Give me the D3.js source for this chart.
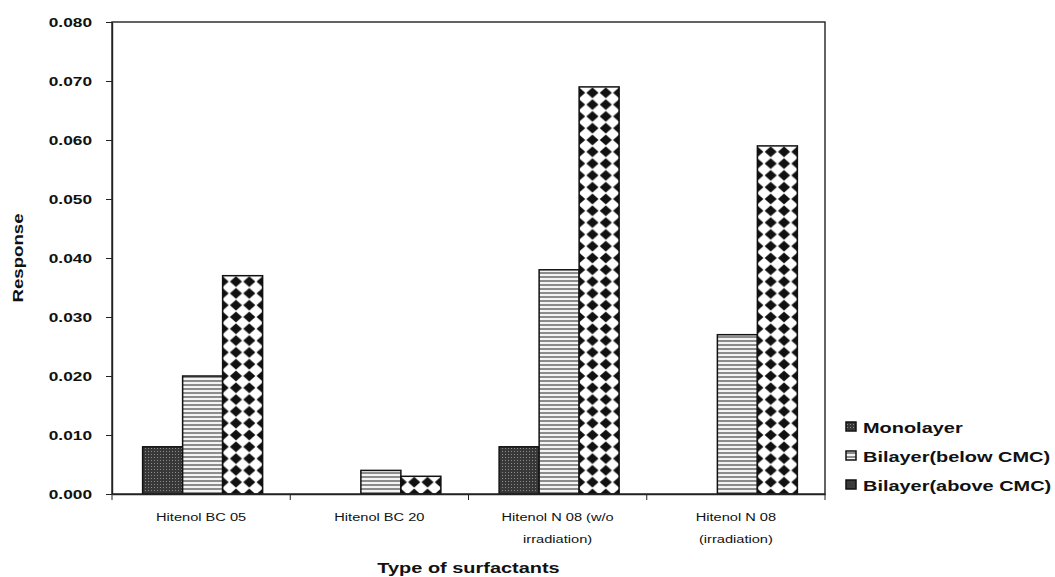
<!DOCTYPE html>
<html><head><meta charset="utf-8">
<script src="https://cdn.jsdelivr.net/npm/d3@7"></script>
<style>body{margin:0;background:#fff}svg{display:block}text{font-family:"Liberation Sans",Arial,sans-serif}</style>
</head><body><svg id="c" width="1055" height="577"></svg>
<script>
const categories = [["Hitenol BC 05"],["Hitenol BC 20"],["Hitenol N 08 (w/o","irradiation)"],["Hitenol N 08","(irradiation)"]];
const seriesNames = ["Monolayer","Bilayer(below CMC)","Bilayer(above CMC)"];
const monolayer = [0.008, 0, 0.008, 0];
const bilayerBelow = [0.020, 0.004, 0.038, 0.027];
const bilayerAbove = [0.037, 0.003, 0.069, 0.059];
const yTicks = [0,0.01,0.02,0.03,0.04,0.05,0.06,0.07,0.08];
const series = [monolayer, bilayerBelow, bilayerAbove];

const svg = d3.select("#c");
const m = {l:112, r:825, t:22, b:494};
const SX = 1.33; // horizontal stretch of text, as in the reference
const defs = svg.append("defs");
const p1 = defs.append("pattern").attr("id","pMono").attr("patternUnits","userSpaceOnUse").attr("width",3).attr("height",3);
p1.append("rect").attr("width",3).attr("height",3).attr("fill","#383838");
p1.append("rect").attr("x",1).attr("y",1).attr("width",1).attr("height",1).attr("fill","#8a8a8a");
const p2 = defs.append("pattern").attr("id","pBelow").attr("patternUnits","userSpaceOnUse").attr("width",4).attr("height",4);
p2.append("rect").attr("width",4).attr("height",4).attr("fill","#f4f4f4");
p2.append("rect").attr("width",4).attr("height",2).attr("fill","#8c8c8c");

const x = d3.scaleBand().domain(d3.range(categories.length)).range([m.l,m.r]);
const y = d3.scaleLinear().domain([0,0.08]).range([m.b,m.t]);
const bw = 40;
const xs = d3.scaleBand().domain(d3.range(3)).range([0,bw*3]);
const barX = (i,si)=>x(i)+x.bandwidth()/2-bw*1.5+xs(si)+1.5;

// diamond pattern, one per category so it aligns with each bar's left edge
const w=bw/3,h=11.8;
categories.forEach((c,i)=>{
  const p3 = defs.append("pattern").attr("id","pAbove"+i).attr("patternUnits","userSpaceOnUse")
    .attr("width",w).attr("height",h).attr("x",barX(i,2)).attr("y",m.b);
  p3.append("rect").attr("width",w).attr("height",h).attr("fill","#ffffff");
  [[0,0],[w,0],[0,h],[w,h]].forEach(([cx,cy])=>{
    p3.append("path").attr("d",`M${cx-w/2+0.6},${cy} L${cx},${cy-h/2+0.6} L${cx+w/2-0.6},${cy} L${cx},${cy+h/2-0.6}Z`).attr("fill","#111");
  });
});
const fills=[()=>"url(#pMono)",()=>"url(#pBelow)",i=>"url(#pAbove"+i+")"];

series.forEach((s,si)=>{
  const data = s.map((v,i)=>({v,i})).filter(d=>d.v>0);
  svg.append("g").selectAll("rect").data(data).join("rect")
    .attr("x",d=>barX(d.i,si))
    .attr("y",d=>y(d.v)).attr("width",bw).attr("height",d=>y(0)-y(d.v))
    .attr("fill",d=>fills[si](d.i)).attr("stroke","#111").attr("stroke-width",1.5);
});

svg.append("rect").attr("x",m.l).attr("y",m.t).attr("width",m.r-m.l).attr("height",m.b-m.t).attr("fill","none").attr("stroke","#222").attr("stroke-width",1.4);

function stext(g,xx,yy,str,opts){
  return g.append("text").attr("transform",`translate(${xx},${yy}) scale(${SX},1)`)
    .attr("font-size",opts.size).attr("font-weight",opts.weight||"normal")
    .attr("text-anchor",opts.anchor||"start").attr("fill","#111").text(str);
}

// y axis
const ya = svg.append("g").attr("transform",`translate(${m.l},0)`)
  .call(d3.axisLeft(y).tickValues(yTicks).tickFormat("").tickSize(6).tickSizeOuter(0));
ya.select(".domain").attr("stroke","#222").attr("stroke-width",1.4);
ya.selectAll("line").attr("stroke","#222");
const fmt = d3.format(".3f");
yTicks.forEach(v=>stext(svg,92,y(v)+5,fmt(v),{size:13,weight:"bold",anchor:"end"}));

// x axis
const xa = svg.append("g").attr("transform",`translate(0,${m.b})`)
  .call(d3.axisBottom(x).tickValues([]).tickSizeOuter(0));
xa.select(".domain").attr("stroke","#222").attr("stroke-width",1.4);
const bnds = d3.range(categories.length+1).map(i=> i<categories.length ? x(i) : m.r);
xa.selectAll("line.tk").data(bnds).join("line").attr("class","tk")
  .attr("x1",d=>d).attr("x2",d=>d).attr("y1",0).attr("y2",6).attr("stroke","#222");
categories.forEach((lines,i)=>{
  lines.forEach((ln,k)=>stext(svg,x(i)+x.bandwidth()/2,521+k*22,ln,{size:11,anchor:"middle"}));
});

stext(svg,(m.l+m.r)/2,573,"Type of surfactants",{size:15,weight:"bold",anchor:"middle"});
svg.append("text").attr("transform",`translate(23,258) rotate(-90) scale(${SX},1)`).attr("text-anchor","middle")
  .attr("font-size",14).attr("font-weight","bold").attr("fill","#111").text("Response");

// legend
const lg = svg.append("g").attr("transform","translate(846,0)");
seriesNames.forEach((n,i)=>{
  const yy = 427 + i*29;
  lg.append("rect").attr("x",0).attr("y",yy-5).attr("width",10).attr("height",9)
    .attr("fill",i==0?"url(#pMono)":i==1?"url(#pBelow)":"#3a3a3a").attr("stroke","#111").attr("stroke-width",1.5);
  stext(lg,17,yy+6,n,{size:15,weight:"bold"});
});
</script></body></html>
